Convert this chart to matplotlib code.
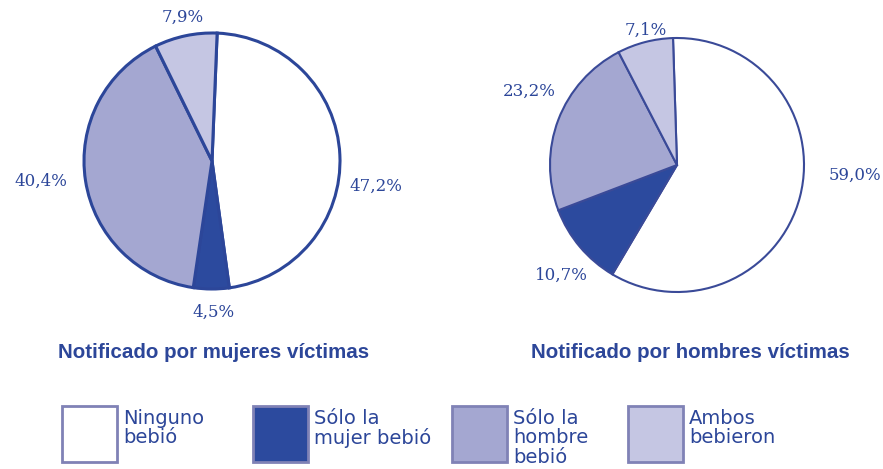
import matplotlib.pyplot as plt
from matplotlib.patches import Rectangle

# datos
categorias = ["Ninguno\nbebió", "Sólo la\nmujer bebió", "Sólo la\nhombre\nbebió", "Ambos\nbebieron"]
mujeres = [47.2, 4.5, 40.4, 7.9]
hombres = [59.0, 10.7, 23.2, 7.1]
titulos = ["Notificado por mujeres víctimas", "Notificado por hombres víctimas"]

colores = ["#ffffff", "#2c4a9e", "#a4a7d1", "#c5c6e3"]
azul = "#2c4699"
W, H = 883, 469

fig = plt.figure(figsize=(W / 100, H / 100), dpi=100)


def eje_pastel(cx, cy, r):
    # cx, cy en pixeles desde arriba a la izquierda
    ax = fig.add_axes([(cx - r) / W, (H - cy - r) / H, 2 * r / W, 2 * r / H])
    return ax


def fijar(ax):
    ax.set_xlim(-1, 1)
    ax.set_ylim(-1, 1)
    ax.axis("off")


def etiqueta(v):
    return ("%.1f%%" % v).replace(".", ",")


# pastel izquierdo
ax1 = eje_pastel(212, 161, 128)
ax1.pie(mujeres, colors=colores, startangle=87.7, counterclock=False, radius=1,
        wedgeprops=dict(edgecolor=azul, linewidth=2.2))
fijar(ax1)
pos1 = [(1.28, -0.20), (0.01, -1.18), (-1.34, -0.16), (-0.23, 1.12)]
for v, (x, y) in zip(mujeres, pos1):
    ax1.text(x, y, etiqueta(v), ha="center", va="center", color=azul,
             fontsize=12, family="DejaVu Serif", clip_on=False)

# pastel derecho
ax2 = eje_pastel(677, 165, 127)
ax2.pie(hombres, colors=colores, startangle=91.8, counterclock=False, radius=1,
        wedgeprops=dict(edgecolor="#3a4a98", linewidth=1.5))
fijar(ax2)
pos2 = [(1.40, -0.08), (-0.91, -0.87), (-1.16, 0.58), (-0.25, 1.06)]
for v, (x, y) in zip(hombres, pos2):
    ax2.text(x, y, etiqueta(v), ha="center", va="center", color=azul,
             fontsize=12, family="DejaVu Serif", clip_on=False)

# titulos
for t, cx in zip(titulos, [214, 690]):
    fig.text(cx / W, 1 - 353 / H, t, ha="center", va="center", color=azul,
             fontsize=14.8, fontweight="bold", family="Liberation Sans")

# leyenda
cajas_x = [62, 253, 452, 628]
for cat, col, x in zip(categorias, colores, cajas_x):
    fig.patches.append(Rectangle((x / W, 1 - 462 / H), 55 / W, 56 / H,
                                 transform=fig.transFigure, facecolor=col,
                                 edgecolor="#8082b6", linewidth=2))
    fig.text((x + 61) / W, 1 - 409 / H, cat, ha="left", va="top", color=azul,
             fontsize=14, family="DejaVu Sans", linespacing=1.02)

fig.savefig("out.png", dpi=100)
